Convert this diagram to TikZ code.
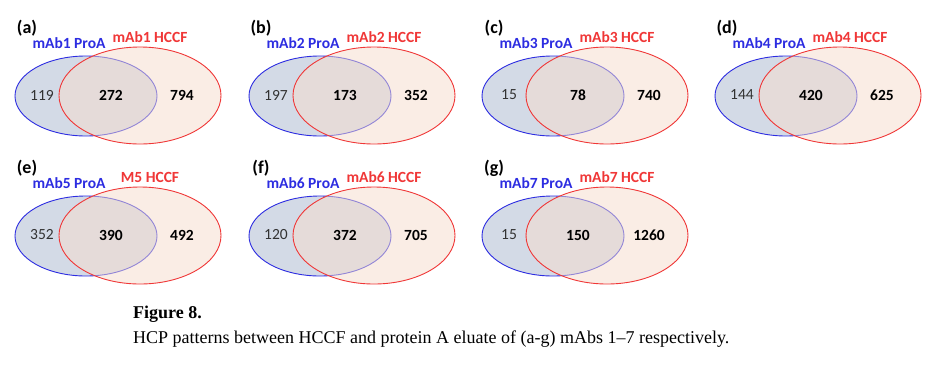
\documentclass[tikz,border=0pt]{standalone}
\usepackage{fontspec}
\setmainfont{Liberation Serif}
\setsansfont{Carlito}
\definecolor{proablue}{RGB}{45,45,225}
\definecolor{proafill}{RGB}{211,218,230}
\definecolor{hccfred}{RGB}{240,55,55}
\definecolor{hccffill}{RGB}{247,221,205}
\definecolor{numgray}{RGB}{50,50,50}

% one Venn panel: name, x, y, tag, left label, right label, three counts
\newcommand{\vennpanel}[9]{%
  \begin{scope}[shift={(#2,#3)}]
    \draw[proa] (86,96) ellipse (71 and 40);
    \draw[hccf] (140,95.5) ellipse (81 and 48.5);
    \node[tag]  (tag#1)  at (27,28)  {(#4)};
    \node[left label]  (proa#1) at (69,43)  {#5};
    \node[right label] (hccf#1) at (150,37) {#6};
    \node[count] (only#1) at (42,95)  {#7};
    \node[count,font=\sffamily\bfseries\fontsize{15.5}{15.5}\selectfont,text=black] (both#1) at (111,95) {#8};
    \node[count,font=\sffamily\bfseries\fontsize{15.5}{15.5}\selectfont,text=black] (rest#1) at (182,95) {#9};
  \end{scope}}

\begin{document}
\begin{tikzpicture}[x=1pt,y=-1pt,
    proa/.style={draw=proablue,line width=0.9pt,fill=proafill},
    hccf/.style={draw=hccfred,line width=0.9pt,fill=hccffill,fill opacity=0.5},
    tag/.style={font=\sffamily\bfseries\fontsize{18}{18}\selectfont,inner sep=0pt},
    left label/.style={font=\sffamily\bfseries\fontsize{15.5}{15.5}\selectfont,text=proablue,inner sep=0pt},
    right label/.style={font=\sffamily\bfseries\fontsize{15.5}{15.5}\selectfont,text=hccfred,inner sep=0pt},
    count/.style={font=\sffamily\fontsize{15.5}{15.5}\selectfont,text=numgray,inner sep=0pt}]

  \useasboundingbox[fill=white] (0,0) rectangle (933,370);

  \vennpanel{A}{0}{0}{a}{mAb1 ProA}{mAb1 HCCF}{119}{272}{794}
  \vennpanel{B}{234}{0}{b}{mAb2 ProA}{mAb2 HCCF}{197}{173}{352}
  \vennpanel{C}{467}{0}{c}{mAb3 ProA}{mAb3 HCCF}{15}{78}{740}
  \vennpanel{D}{700}{0}{d}{mAb4 ProA}{mAb4 HCCF}{144}{420}{625}
  \vennpanel{E}{0}{140}{e}{mAb5 ProA}{M5 HCCF}{352}{390}{492}
  \vennpanel{F}{234}{140}{f}{mAb6 ProA}{mAb6 HCCF}{120}{372}{705}
  \vennpanel{G}{467}{140}{g}{mAb7 ProA}{mAb7 HCCF}{15}{150}{1260}

  \node[anchor=west,inner sep=0pt,font=\bfseries\fontsize{18}{18}\selectfont] (figno) at (133,314) {Figure 8.};
  \node[anchor=west,inner sep=0pt,font=\fontsize{18}{18}\selectfont] (caption) at (133,339)
    {HCP patterns between HCCF and protein A eluate of (a-g) mAbs 1--7 respectively.};
\end{tikzpicture}
\end{document}
